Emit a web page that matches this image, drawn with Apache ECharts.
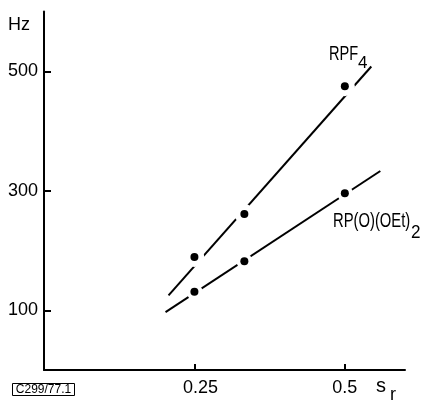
<!DOCTYPE html>
<html>
<head>
<meta charset="utf-8">
<script src="https://cdn.jsdelivr.net/npm/echarts@6/dist/echarts.min.js"></script>
<style>
html,body{margin:0;padding:0;background:#fff;}
#c{width:423px;height:402px;}
</style>
</head>
<body>
<div id="c"></div>
<script>
// ---- data ----
const xTicks = [0.25, 0.5];
const yTicks = [100, 300, 500];
const sr = [0.25, 0.333, 0.5];
const rpf4 = [189, 261, 475];
const rpoet = [131, 182, 296];
const rpf4FitX = [0.207, 0.544];
const rpf4FitY = [125, 508];
const rpoetFitX = [0.202, 0.559];
const rpoetFitY = [97, 333];

const FONT = '"Liberation Sans", Arial, sans-serif';
const pairs = (xs, ys) => xs.map((x, i) => [x, ys[i]]);
const txt = (text, x, y, size, sx, align) => ({
  type: 'text', x: x, y: y, scaleX: sx || 1, scaleY: 1,
  style: {text: text, font: size + 'px ' + FONT, fill: '#000', align: align || 'left', verticalAlign: 'middle'}
});

const chart = echarts.init(document.getElementById('c'), null, {renderer: 'canvas'});
chart.setOption({
  animation: false,
  backgroundColor: '#fff',
  grid: {left: 44, right: 18, top: 11.5, bottom: 32},
  xAxis: {
    type: 'value', min: 0, max: 0.6,
    splitLine: {show: false},
    axisLine: {show: true, onZero: false, lineStyle: {color: '#000', width: 2}},
    axisTick: {show: true, inside: true, length: 6, customValues: xTicks, lineStyle: {color: '#000', width: 2}},
    axisLabel: {customValues: xTicks, margin: 9, color: '#000', fontSize: 18, fontFamily: FONT,
      formatter: v => (v < 0.3 ? '{s|' + v + '}' : String(v)),
      rich: {s: {padding: [0, 0, 0, 12], fontSize: 18, fontFamily: FONT, color: '#000'}}}
  },
  yAxis: {
    type: 'value', min: 0, max: 600,
    splitLine: {show: false},
    axisLine: {show: true, onZero: false, lineStyle: {color: '#000', width: 2}},
    axisTick: {show: true, inside: true, length: 7, customValues: yTicks, lineStyle: {color: '#000', width: 2}},
    axisLabel: {customValues: yTicks, margin: 6, color: '#000', fontSize: 18, fontFamily: FONT}
  },
  series: [
    {type: 'line', data: pairs(rpf4FitX, rpf4FitY), symbol: 'none', z: 2, silent: true,
     lineStyle: {color: '#000', width: 2}},
    {type: 'line', data: pairs(rpoetFitX, rpoetFitY), symbol: 'none', z: 2, silent: true,
     lineStyle: {color: '#000', width: 2}},
    {type: 'scatter', data: pairs(sr, rpf4), symbolSize: 20, z: 3, silent: true,
     itemStyle: {color: '#fff', opacity: 1}},
    {type: 'scatter', data: pairs(sr, rpoet), symbolSize: 16, z: 3, silent: true,
     itemStyle: {color: '#fff', opacity: 1}},
    {type: 'scatter', data: pairs(sr, rpf4), symbolSize: 8, z: 4, silent: true,
     itemStyle: {color: '#000', opacity: 1}},
    {type: 'scatter', data: pairs(sr, rpoet), symbolSize: 8, z: 4, silent: true,
     itemStyle: {color: '#000', opacity: 1}}
  ],
  graphic: [
    txt('Hz', 8, 25, 18),
    txt('s', 376, 386, 20),
    txt('r', 390, 395, 18),
    txt('RPF', 329, 54, 20, 0.73),
    txt('4', 358, 63, 17),
    txt('RP(O)(OEt)', 333, 221, 20, 0.74),
    txt('2', 411, 233, 19, 0.9),
    {type: 'rect', shape: {x: 12.5, y: 383.5, width: 62, height: 12}, style: {fill: 'none', stroke: '#000', lineWidth: 1}},
    txt('C299/77.1', 43.5, 390, 12, 1, 'center')
  ]
});
</script>
</body>
</html>
